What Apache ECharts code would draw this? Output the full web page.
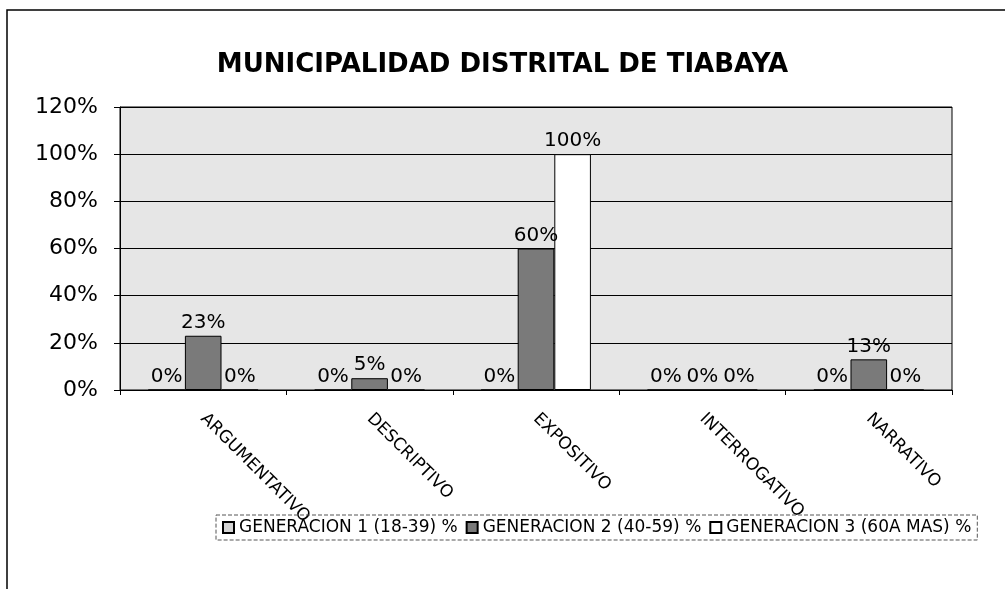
<!DOCTYPE html>
<html>
<head>
<meta charset="utf-8">
<script src="https://cdn.jsdelivr.net/npm/echarts@6/dist/echarts.min.js"></script>
<style>
  html, body { margin: 0; padding: 0; background: #fff; }
  #main { width: 1005px; height: 589px; }
</style>
</head>
<body>
<div id="main"></div>
<script>
var categorias = ['ARGUMENTATIVO', 'DESCRIPTIVO', 'EXPOSITIVO', 'INTERROGATIVO', 'NARRATIVO'];
var generacion1 = [0, 0, 0, 0, 0];
var generacion2 = [23, 5, 60, 0, 13];
var generacion3 = [0, 0, 100, 0, 0];
var nombres = ['GENERACION 1 (18-39) %', 'GENERACION 2 (40-59) %', 'GENERACION 3 (60A MAS) %'];
var ticksY = [0, 20, 40, 60, 80, 100, 120];

var myChart = echarts.init(document.getElementById('main'));
var fuente = 'DejaVu Sans';

function serie(name, data, color) {
    return {
        name: name,
        type: 'bar',
        data: data,
        barGap: '0%',
        barCategoryGap: '34%',
        itemStyle: { color: color, borderColor: '#000', borderWidth: 1 },
        label: {
            show: true,
            position: 'top',
            distance: 3,
            formatter: '{c}%',
            color: '#000',
            fontFamily: fuente,
            fontSize: 20
        }
    };
}

var option = {
    animation: false,
    backgroundColor: '#fff',
    title: {
        text: 'MUNICIPALIDAD DISTRITAL DE TIABAYA',
        left: 'center',
        top: 47,
        textStyle: { fontFamily: fuente, fontSize: 26, fontWeight: 'bold', color: '#000' }
    },
    graphic: [{
        type: 'rect',
        shape: { x: 7, y: 10, width: 1100, height: 700 },
        style: { fill: 'none', stroke: '#000', lineWidth: 1.5 },
        silent: true
    }],
    legend: {
        left: 216,
        top: 515,
        width: 790,
        icon: 'rect',
        itemWidth: 11,
        itemHeight: 11,
        itemGap: 8,
        padding: [4, 6],
        borderColor: '#555',
        borderWidth: 1,
        borderType: 'dashed',
        textStyle: { fontFamily: fuente, fontSize: 17, color: '#000' },
        data: nombres
    },
    grid: {
        left: 120,
        right: 53,
        top: 107,
        bottom: 199,
        show: true,
        backgroundColor: '#e6e6e6',
        borderColor: '#000',
        borderWidth: 1
    },
    xAxis: {
        type: 'category',
        data: categorias,
        axisLine: { lineStyle: { color: '#000' } },
        axisTick: { show: true, length: 5, lineStyle: { color: '#000' } },
        axisLabel: {
            rotate: -45,
            margin: 26,
            interval: 0,
            color: '#000',
            fontFamily: fuente,
            fontSize: 17
        }
    },
    yAxis: {
        type: 'value',
        min: ticksY[0],
        max: ticksY[ticksY.length - 1],
        interval: 20,
        axisLine: { show: true, lineStyle: { color: '#000' } },
        axisTick: { show: true, length: 6, lineStyle: { color: '#000' } },
        splitLine: { lineStyle: { color: '#000', width: 1 } },
        axisLabel: {
            formatter: '{value}%',
            margin: 22,
            color: '#000',
            fontFamily: fuente,
            fontSize: 22
        }
    },
    series: [
        serie(nombres[0], generacion1, '#d4d4d4'),
        serie(nombres[1], generacion2, '#7a7a7a'),
        serie(nombres[2], generacion3, '#ffffff')
    ]
};

myChart.setOption(option);
</script>
</body>
</html>
